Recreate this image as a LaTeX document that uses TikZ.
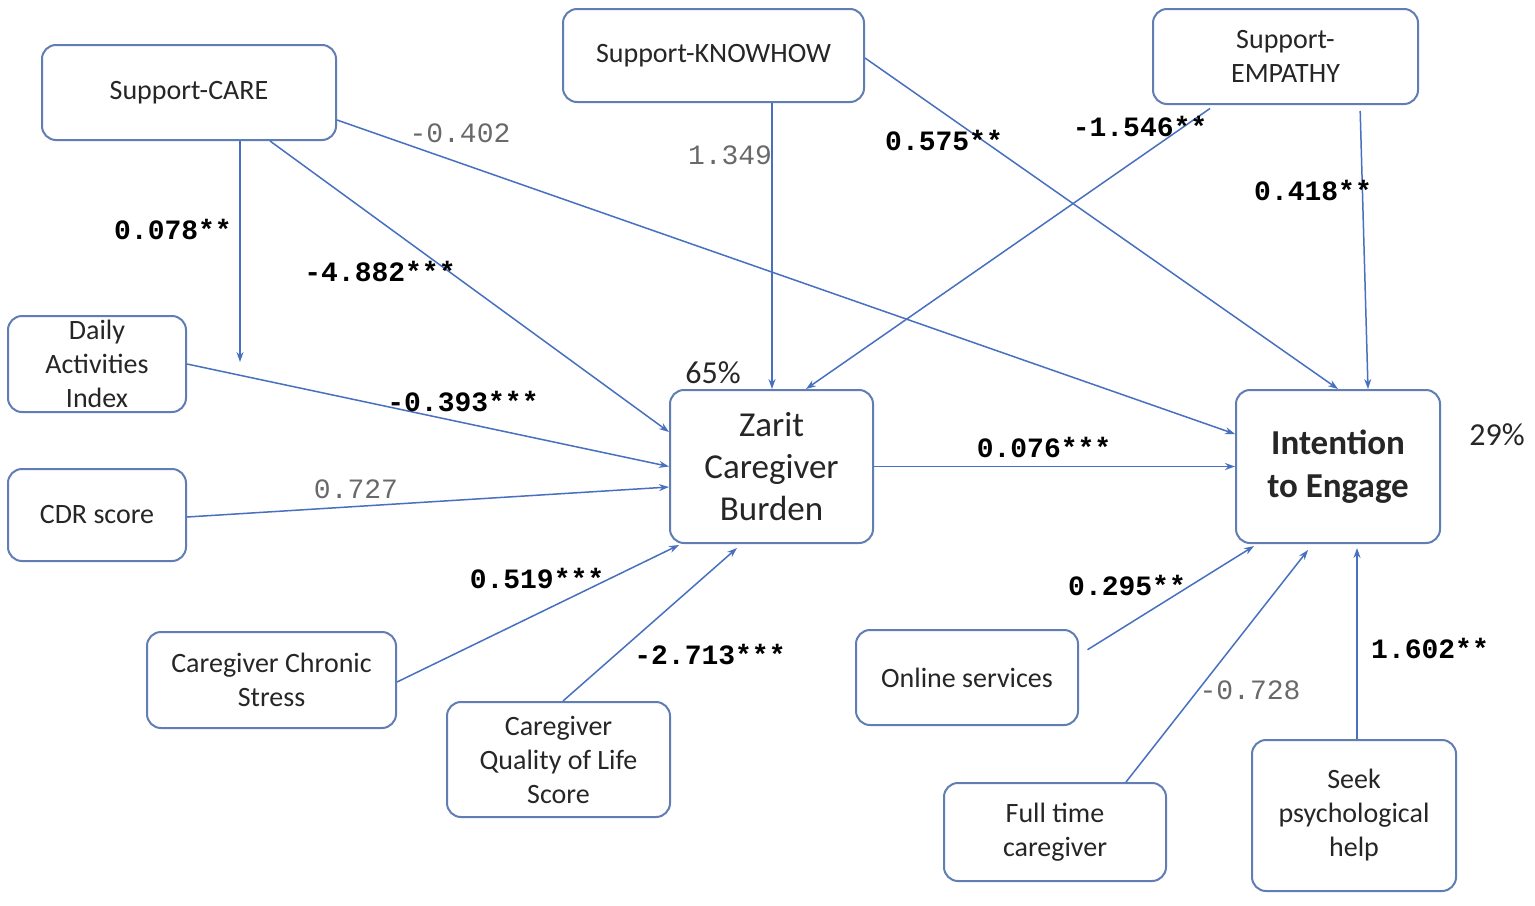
\documentclass[tikz,border=0pt]{standalone}
\usepackage{fontspec}
\setmainfont{Carlito}
\newfontfamily\coeffont{Liberation Mono}
\usetikzlibrary{arrows.meta,positioning,calc}
\definecolor{boxblue}{RGB}{96,125,180}
\definecolor{lineblue}{RGB}{72,112,192}
\definecolor{nsgray}{RGB}{105,105,105}
\tikzset{arr/.style={draw=lineblue, line width=0.75pt, -{Stealth[length=5pt,width=3.5pt]}}}

\begin{document}
\begin{tikzpicture}[x=0.5pt,y=-0.5pt,
    var/.style={draw=boxblue, line width=1pt, rounded corners=7pt, align=center, inner sep=0pt, text=black!85,
        font={\fontsize{14}{17}\selectfont}},
    sig/.style={inner sep=1pt, font={\coeffont\bfseries\fontsize{14}{16}\selectfont}},
    ns/.style={inner sep=1pt, text=nsgray, font={\coeffont\fontsize{14}{16}\selectfont}}]
    \fill[white] (0,0) rectangle (1535,905);
    \useasboundingbox (0,0) rectangle (1535,905);

    % support variables
    \node[var, minimum width=147pt, minimum height=47.5pt] (care) at (189,92.5) {Support-CARE};
    \node[var, minimum width=150.5pt, minimum height=46.5pt] (know) at (713.5,55.5) {Support-KNOWHOW};
    \node[var, minimum width=132.5pt, minimum height=47.5pt] (emp) at (1285.5,56.5) {Support-\\EMPATHY};

    % predictors of burden
    \node[var, minimum width=89pt, minimum height=48pt] (daily) at (97,364) {Daily\\Activities\\Index};
    \node[var, minimum width=89pt, minimum height=46pt] (cdr) at (97,515) {CDR score};
    \node[var, minimum width=124.5pt, minimum height=48pt] (stress) at (271.5,680) {Caregiver Chronic\\Stress};
    \node[var, minimum width=111.5pt, minimum height=57.5pt] (qol) at (558.5,759.5) {Caregiver\\Quality of Life\\Score};

    % outcomes
    \node[var, minimum width=101.5pt, minimum height=76.5pt, font={\fontsize{17.5}{21}\selectfont}] (zarit) at (771.5,466.5) {Zarit\\Caregiver\\Burden};
    \node[var, minimum width=102pt, minimum height=76.5pt, font={\bfseries\fontsize{17.5}{21.5}\selectfont}] (intent) at (1338,466.5) {Intention\\to Engage};
    \node[text=black!85, font={\fontsize{16}{18}\selectfont}] (r2zarit) at (713,373) {65\%};
    \node[text=black!85, font={\fontsize{16}{18}\selectfont}] (r2intent) at (1497,435) {29\%};

    % predictors of intention
    \node[var, minimum width=111pt, minimum height=47.5pt] (online) at (967,677.5) {Online services};
    \node[var, minimum width=111pt, minimum height=49pt] (full) at (1055,832) {Full time\\caregiver};
    \node[var, minimum width=102pt, minimum height=75.5pt] (seek) at (1354,815.5) {Seek\\psychological\\help};

    % paths
    \coordinate (moder) at (240,362);
    \draw[arr] ([xshift=25.5pt]care.south) -- (moder);
    \draw[arr] ([xshift=40.5pt]care.south) -- ([yshift=17.25pt]zarit.west);
    \draw[arr] ([yshift=-13.75pt]care.east) -- ([yshift=16.25pt]intent.west);
    \draw[arr] ([xshift=29.25pt]know.south) -- ([xshift=0.25pt]zarit.north);
    \draw[arr] ([yshift=-1.25pt]know.east) -- (intent.north);
    \draw[arr, shorten <=3pt] ([xshift=-35.25pt]emp.south) -- ([xshift=17.25pt]zarit.north);
    \draw[arr, shorten <=3pt] ([xshift=37.25pt]emp.south) -- ([xshift=15pt]intent.north);
    \draw[arr] (daily.east) -- (zarit.west);
    \draw[arr] ([yshift=-1pt]cdr.east) -- ([yshift=-10.25pt]zarit.west);
    \draw[arr] ([yshift=-1pt]stress.east) -- ([xshift=5pt,yshift=-0.5pt]zarit.south west);
    \draw[arr] ([xshift=2.25pt]qol.north) -- ([xshift=-17.25pt,yshift=-2pt]zarit.south);
    \draw[arr] (zarit.east) -- (intent.west);
    \draw[arr, shorten <=5pt] ([yshift=11.25pt]online.east) -- ([xshift=-42pt,yshift=-1pt]intent.south);
    \draw[arr] ([xshift=35.5pt]full.north) -- ([xshift=-15pt,yshift=-3pt]intent.south);
    \draw[arr] ([xshift=1.5pt]seek.north) -- ([xshift=9.5pt,yshift=-2pt]intent.south);

    % coefficients
    \node[sig] (b-care-moder) at (173,229) {0.078**};
    \node[sig] (b-care-zarit) at (380,271) {-4.882***};
    \node[ns] (b-care-intent) at (460,133) {-0.402};
    \node[ns] (b-know-zarit) at (730,155) {1.349};
    \node[sig] (b-know-intent) at (944,140) {0.575**};
    \node[sig] (b-emp-zarit) at (1140,126) {-1.546**};
    \node[sig] (b-emp-intent) at (1313,190) {0.418**};
    \node[sig] (b-daily) at (463,402) {-0.393***};
    \node[ns] (b-cdr) at (356,489) {0.727};
    \node[sig] (b-stress) at (537,578) {0.519***};
    \node[sig] (b-qol) at (710,655) {-2.713***};
    \node[sig] (b-zarit) at (1044,447) {0.076***};
    \node[sig] (b-online) at (1127,585) {0.295**};
    \node[ns] (b-full) at (1250,690) {-0.728};
    \node[sig] (b-seek) at (1430,648) {1.602**};
\end{tikzpicture}
\end{document}
